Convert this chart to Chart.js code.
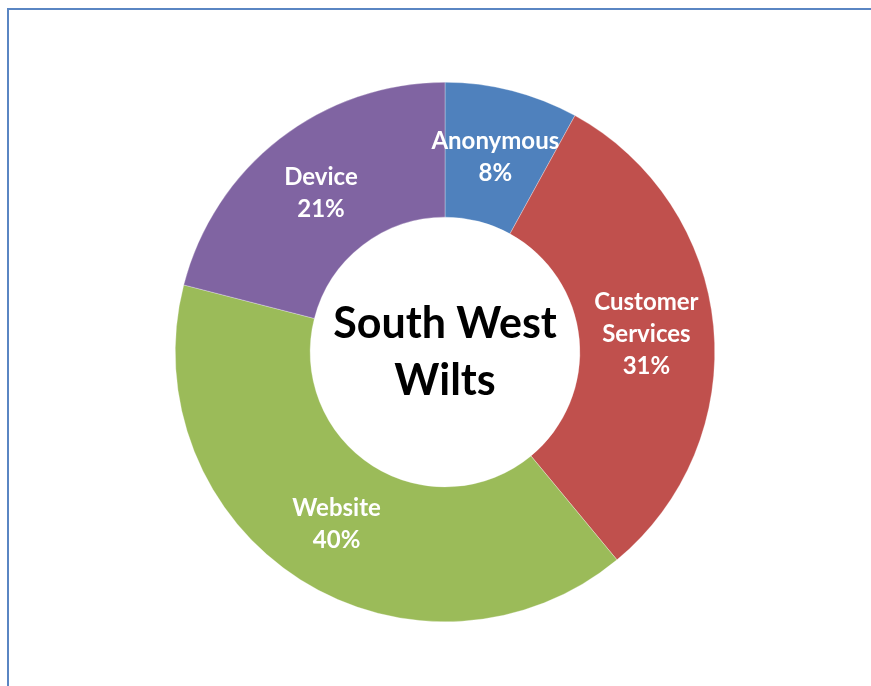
<!DOCTYPE html>
<html>
<head>
<meta charset="utf-8">
<script src="https://cdn.jsdelivr.net/npm/chart.js@4.4.1/dist/chart.umd.min.js"></script>
<style>
  html, body { margin: 0; padding: 0; background: #fff; overflow: hidden; width: 871px; height: 686px; }
  .frameTop {
    position: absolute; left: 7px; top: 8px; width: 900px; height: 0;
    border-top: 2px solid #5a86c3;
  }
  .frameLeft {
    position: absolute; left: 7px; top: 8px; width: 0; height: 700px;
    border-left: 2px solid #5a86c3;
  }
  .wrap { position: absolute; left: 0; top: 0; width: 871px; height: 686px; }
</style>
</head>
<body>
<div class="frameTop"></div>
<div class="frameLeft"></div>
<div class="wrap"><canvas id="donut"></canvas></div>
<script>
const categories = ['Anonymous', 'Customer Services', 'Website', 'Device'];
const values = [8, 31, 40, 21];
const colours = ['#4f81bd', '#c0504d', '#9bbb59', '#8064a2'];
const centreTitle = ['South West', 'Wilts'];

// etiquetas blancas dentro de cada sector
const sliceLabels = {
  id: 'sliceLabels',
  afterDatasetsDraw(chart) {
    const ctx = chart.ctx;
    const meta = chart.getDatasetMeta(0);
    const total = values.reduce((a, b) => a + b, 0);
    ctx.save();
    ctx.fillStyle = '#ffffff';
    ctx.font = 'bold 24px Lato';
    ctx.textAlign = 'center';
    ctx.textBaseline = 'middle';
    meta.data.forEach((arc, i) => {
      const pos = arc.tooltipPosition();
      const lines = categories[i].split(' ');
      lines.push(Math.round(values[i] / total * 100) + '%');
      const lh = 32;
      const y0 = pos.y + 1 - (lines.length - 1) * lh / 2;
      lines.forEach((t, j) => ctx.fillText(t, pos.x, y0 + j * lh));
    });
    ctx.restore();
  }
};

// texto del centro
const centreText = {
  id: 'centreText',
  afterDraw(chart) {
    const ctx = chart.ctx;
    const arc = chart.getDatasetMeta(0).data[0];
    ctx.save();
    ctx.fillStyle = '#000000';
    ctx.font = 'bold 43px Lato';
    ctx.textAlign = 'center';
    ctx.textBaseline = 'middle';
    ctx.fillText(centreTitle[0], arc.x, arc.y - 28);
    ctx.fillText(centreTitle[1], arc.x, arc.y + 29);
    ctx.restore();
  }
};

new Chart(document.getElementById('donut'), {
  type: 'doughnut',
  data: {
    labels: categories,
    datasets: [{
      data: values,
      backgroundColor: colours,
      borderColor: 'rgba(255,255,255,0.6)',
      borderWidth: 0.5
    }]
  },
  options: {
    responsive: true,
    maintainAspectRatio: false,
    animation: false,
    cutout: '50%',
    layout: { padding: { top: 82, bottom: 64, left: 175, right: 156 } },
    plugins: {
      legend: { display: false },
      tooltip: { enabled: false }
    }
  },
  plugins: [sliceLabels, centreText]
});
</script>
</body>
</html>
